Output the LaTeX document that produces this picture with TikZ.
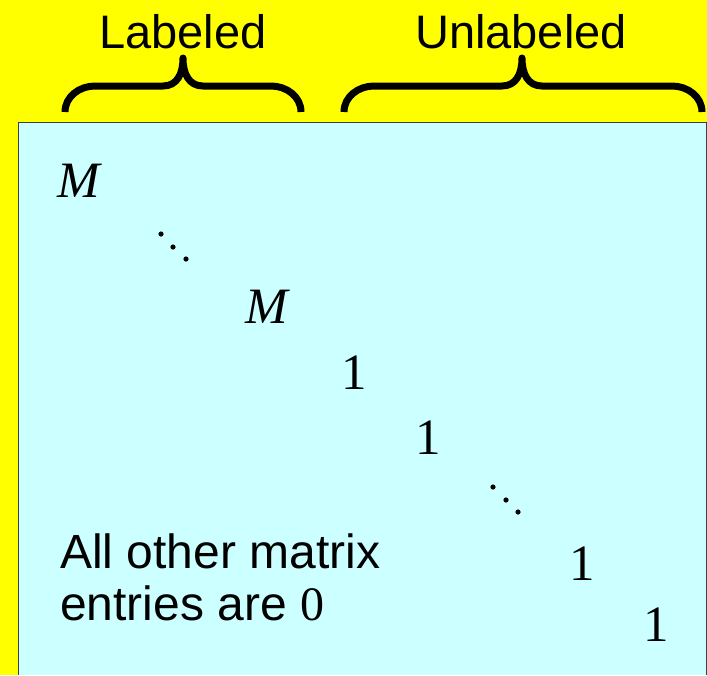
\documentclass[tikz,border=0pt]{standalone}
\usepackage{fontspec}
\setmainfont{Liberation Sans}
\newfontfamily\tmsfont{Liberation Serif}

\definecolor{bgyellow}{HTML}{FFFF00}
\definecolor{matcyan}{HTML}{CCFFFF}

\tikzset{
	bracket/.style={line width=7pt, line join=round},
	heading/.style={anchor=base, font=\fontsize{47}{56}\selectfont},
	entry/.style={anchor=base, font=\fontsize{51}{60}\selectfont\tmsfont},
	dotmark/.style={fill=black},
}

\begin{document}
\begin{tikzpicture}[x=1pt, y=-1pt]

		% page and matrix block
		\fill[bgyellow] (0, 0) rectangle (707, 675);
		\useasboundingbox (0, 0) rectangle (707, 675);
		\fill[matcyan] (18, 122) rectangle (706, 675);
		\draw[black!75, line width=1pt] (18, 675) -- (18, 122) -- (706, 122) -- (706, 675);

		% braces over the columns
		\draw[bracket] (65, 112) to[out=90, in=180] (95, 86) -- (163, 86)
			.. controls (177, 86) and (183, 74) .. (183, 58)
			.. controls (183, 74) and (189, 86) .. (203, 86) -- (271, 86)
			to[out=0, in=90] (301, 112);
		\draw[bracket] (344, 112) to[out=90, in=180] (374, 86) -- (502, 86)
			.. controls (516, 86) and (522, 74) .. (522, 58)
			.. controls (522, 74) and (528, 86) .. (542, 86) -- (672, 86)
			to[out=0, in=90] (702, 112);

		\node[heading] (lab) at (183, 48) {Labeled};
		\node[heading] (unlab) at (521, 48) {Unlabeled};

		% diagonal entries
		\node[entry] (m1) at (79, 197) {\itshape M};
		\fill[dotmark] (161, 234) circle (2.6);
		\fill[dotmark] (173, 247) circle (2.6);
		\fill[dotmark] (186, 259) circle (2.6);
		\node[entry] (m2) at (267, 323) {\itshape M};
		\node[entry] (one1) at (354, 389) {1};
		\node[entry] (one2) at (428, 454) {1};
		\fill[dotmark] (493, 487) circle (2.6);
		\fill[dotmark] (506, 500) circle (2.6);
		\fill[dotmark] (518, 512) circle (2.6);
		\node[entry] (one3) at (582, 580) {1};
		\node[entry] (one4) at (656, 641) {1};

		% remark in the corner
		\node[anchor=base west, inner sep=0pt, font=\fontsize{48}{52}\selectfont,
			align=left] (note) at (60, 620) {All other matrix\\entries are {\tmsfont 0}};

	\end{tikzpicture}
\end{document}
